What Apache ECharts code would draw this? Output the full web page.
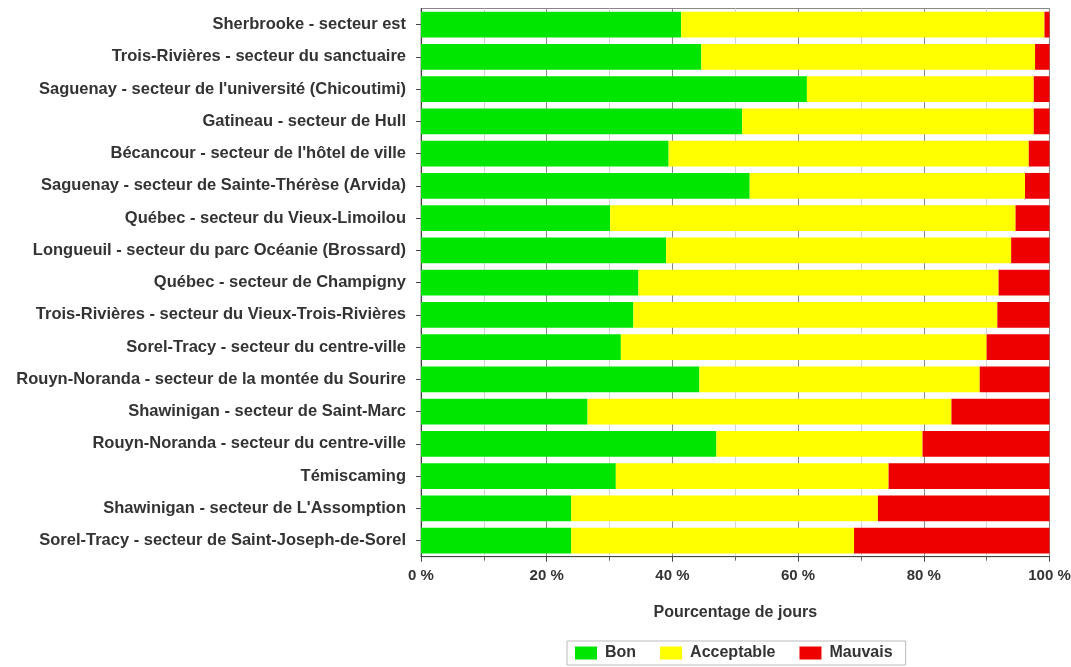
<!DOCTYPE html>
<html><head><meta charset="utf-8">
<script src="https://cdn.jsdelivr.net/npm/echarts@6/dist/echarts.min.js"></script>
<style>html,body{margin:0;padding:0;background:#fff}#c{width:1071px;height:667px}</style>
</head><body><div id="c"></div>
<script>
const categories = [
  "Sherbrooke - secteur est",
  "Trois-Rivières - secteur du sanctuaire",
  "Saguenay - secteur de l'université (Chicoutimi)",
  "Gatineau - secteur de Hull",
  "Bécancour - secteur de l'hôtel de ville",
  "Saguenay - secteur de Sainte-Thérèse (Arvida)",
  "Québec - secteur du Vieux-Limoilou",
  "Longueuil - secteur du parc Océanie (Brossard)",
  "Québec - secteur de Champigny",
  "Trois-Rivières - secteur du Vieux-Trois-Rivières",
  "Sorel-Tracy - secteur du centre-ville",
  "Rouyn-Noranda - secteur de la montée du Sourire",
  "Shawinigan - secteur de Saint-Marc",
  "Rouyn-Noranda - secteur du centre-ville",
  "Témiscaming",
  "Shawinigan - secteur de L'Assomption",
  "Sorel-Tracy - secteur de Saint-Joseph-de-Sorel"
];
const bon        = [41.4, 44.6, 61.4, 51.1, 39.4, 52.3, 30.1, 39.0, 34.6, 33.8, 31.8, 44.3, 26.5, 47.0, 31.0, 23.9, 23.9];
const acceptable = [57.8, 53.1, 36.1, 46.4, 57.3, 43.8, 64.5, 54.9, 57.3, 57.9, 58.2, 44.6, 57.9, 32.8, 43.4, 48.8, 45.0];
const mauvais    = [ 0.8,  2.3,  2.5,  2.5,  3.3,  3.9,  5.4,  6.1,  8.1,  8.3, 10.0, 11.1, 15.6, 20.2, 25.6, 27.3, 31.1];
const seriesNames = ["Bon", "Acceptable", "Mauvais"];
const xTicks = [0, 20, 40, 60, 80, 100];

const font = '"Liberation Sans", Arial, sans-serif';
const chart = echarts.init(document.getElementById('c'), null, {renderer: 'canvas'});
const colors = ['#00e600', '#ffff00', '#ee0000'];
const mk = (name, data, i) => ({
  name, type: 'bar', stack: 'tot', data, barCategoryGap: '20%',
  itemStyle: {color: colors[i]}, animation: false
});
chart.setOption({
  animation: false,
  textStyle: {fontFamily: font},
  grid: {left: 421, right: 21.5, top: 8.5, bottom: 110.3, show: true, borderColor: '#888', borderWidth: 1,
    backgroundColor: '#fff', containLabel: false, outerBoundsMode: 'none'},
  xAxis: {
    type: 'value', min: 0, max: 100, interval: 20,
    name: 'Pourcentage de jours', nameLocation: 'middle', nameGap: 48,
    nameTextStyle: {fontFamily: font, fontWeight: 'bold', fontSize: 16, color: '#333'},
    axisLine: {show: true, lineStyle: {color: '#444'}},
    axisTick: {show: true, length: 5, lineStyle: {color: '#444'}},
    minorTick: {show: true, splitNumber: 2, length: 4, lineStyle: {color: '#666'}},
    splitLine: {show: true, lineStyle: {color: '#888'}},
    minorSplitLine: {show: true, lineStyle: {color: '#d4d4d4'}},
    axisLabel: {fontFamily: font, fontWeight: 'bold', fontSize: 15, color: '#333', margin: 12,
      hideOverlap: false, formatter: v => xTicks.includes(v) ? v + ' %' : ''}
  },
  yAxis: {
    type: 'category', data: categories, inverse: true,
    axisLine: {show: true, lineStyle: {color: '#444'}},
    axisTick: {show: true, length: 5, alignWithLabel: true, lineStyle: {color: '#444'}},
    axisLabel: {fontFamily: font, fontWeight: 'bold', fontSize: 16.5, color: '#333', margin: 15}
  },
  legend: {
    data: seriesNames, left: 567, top: 641, orient: 'horizontal',
    icon: 'rect', itemWidth: 22, itemHeight: 13, itemGap: 24,
    borderColor: '#bbb', borderWidth: 1, padding: [4, 13, 4, 8],
    textStyle: {fontFamily: font, fontWeight: 'bold', fontSize: 16, color: '#333', padding: [0, 0, 0, 3]}
  },
  series: [mk(seriesNames[0], bon, 0), mk(seriesNames[1], acceptable, 1), mk(seriesNames[2], mauvais, 2)]
});
</script></body></html>
